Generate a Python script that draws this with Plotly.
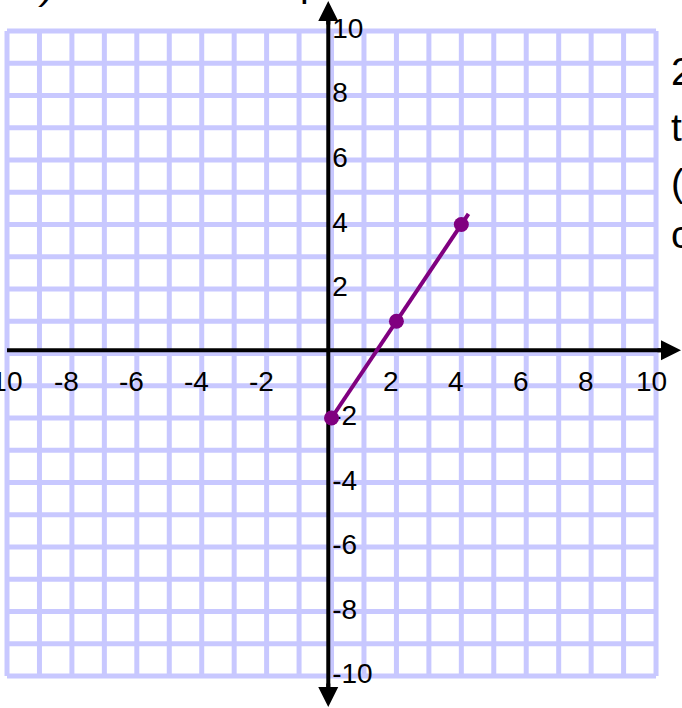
import plotly.graph_objects as go

# ---- data ----
grid_values = list(range(-10, 11))
x_tick_values = [-10, -8, -6, -4, -2, 2, 4, 6, 8, 10]
x_tick_labels = ["-10", "-8", "-6", "-4", "-2", "2", "4", "6", "8", "10"]
y_tick_values = [10, 8, 6, 4, 2, -2, -4, -6, -8, -10]
y_tick_labels = ["10", "8", "6", "4", "2", "-2", "-4", "-6", "-8", "-10"]
point_x = [0, 2, 4]
point_y = [-2, 1, 4]
line_x = [0, 4.22]
line_y = [-2, 4.33]
side_text = ["2", "t", "(", "c"]

W, H = 682, 708
X_RANGE = [-10.216, 10.80]
Y_RANGE = [-10.992, 10.961]
GRID_COLOR = "rgb(200,200,255)"
PURPLE = "#800080"
FONT = "Liberation Sans, Arial, sans-serif"

def px_to_x(px):
    return X_RANGE[0] + px / W * (X_RANGE[1] - X_RANGE[0])

def py_to_y(py):
    return Y_RANGE[1] - py / H * (Y_RANGE[1] - Y_RANGE[0])

fig = go.Figure()

# grid
gx, gy = [], []
lo, hi = grid_values[0], grid_values[-1]
for v in grid_values:
    gx += [v, v, None]
    gy += [lo, hi, None]
    gx += [lo, hi, None]
    gy += [v, v, None]
fig.add_trace(go.Scatter(x=gx, y=gy, mode="lines",
                         line=dict(color=GRID_COLOR, width=5),
                         hoverinfo="skip", showlegend=False))

# axes lines
axis_x_pos = -0.1
axis_y_pos = 0.1
x_tip = px_to_x(681)
y_top = py_to_y(1)
y_bot = py_to_y(707)
fig.add_trace(go.Scatter(x=[lo, x_tip - 0.3], y=[axis_y_pos, axis_y_pos], mode="lines",
                         line=dict(color="black", width=4), hoverinfo="skip", showlegend=False))
fig.add_trace(go.Scatter(x=[axis_x_pos, axis_x_pos], y=[y_bot + 0.3, y_top - 0.3], mode="lines",
                         line=dict(color="black", width=4), hoverinfo="skip", showlegend=False))

# y tick labels (under the marks)
fig.add_trace(go.Scatter(x=[0.02] * len(y_tick_values), y=y_tick_values, mode="text",
                         text=y_tick_labels, textposition="middle right",
                         textfont=dict(family=FONT, size=28, color="black"),
                         hoverinfo="skip", showlegend=False))

# purple line and points
fig.add_trace(go.Scatter(x=line_x, y=line_y, mode="lines",
                         line=dict(color=PURPLE, width=4),
                         hoverinfo="skip", showlegend=False))
fig.add_trace(go.Scatter(x=point_x, y=point_y, mode="markers",
                         marker=dict(color=PURPLE, size=15),
                         hoverinfo="skip", showlegend=False))

annotations = []
# x tick labels
for v, t in zip(x_tick_values, x_tick_labels):
    annotations.append(dict(x=v, y=0, text=t, showarrow=False, xshift=-5, yshift=-28,
                            xanchor="center", yanchor="middle",
                            font=dict(family=FONT, size=28, color="black")))
# arrowheads
annotations.append(dict(x=x_tip, y=axis_y_pos, ax=-25, ay=0, showarrow=True,
                        arrowhead=2, arrowsize=1, arrowwidth=4, arrowcolor="black", text=""))
annotations.append(dict(x=axis_x_pos, y=y_top, ax=0, ay=25, showarrow=True,
                        arrowhead=2, arrowsize=1, arrowwidth=4, arrowcolor="black", text=""))
annotations.append(dict(x=axis_x_pos, y=y_bot, ax=0, ay=-25, showarrow=True,
                        arrowhead=2, arrowsize=1, arrowwidth=4, arrowcolor="black", text=""))
# cut-off slide text on the right
side_centers = [72, 127, 182, 234]
for t, cy in zip(side_text, side_centers):
    annotations.append(dict(x=669 / W, y=1 - cy / H, xref="paper", yref="paper",
                            text=t, showarrow=False, xanchor="left", yanchor="middle",
                            font=dict(family=FONT, size=39, color="black")))
# cut-off slide text at the top
annotations.append(dict(x=36 / W, y=1 + 15 / H, xref="paper", yref="paper", text="<i>)</i>",
                        showarrow=False, xanchor="left", yanchor="middle",
                        font=dict(family=FONT, size=39, color="black")))
annotations.append(dict(x=298 / W, y=1 + 18 / H, xref="paper", yref="paper", text="p",
                        showarrow=False, xanchor="left", yanchor="middle",
                        font=dict(family=FONT, size=39, color="black")))

fig.update_layout(
    width=W, height=H,
    margin=dict(l=0, r=0, t=0, b=0),
    paper_bgcolor="white", plot_bgcolor="white",
    xaxis=dict(range=X_RANGE, visible=False, fixedrange=True),
    yaxis=dict(range=Y_RANGE, visible=False, fixedrange=True),
    annotations=annotations,
    showlegend=False,
)

fig.write_html("out.html",
               config={"displayModeBar": False},
               post_script="document.body.style.margin='0';document.body.style.overflow='hidden';")
